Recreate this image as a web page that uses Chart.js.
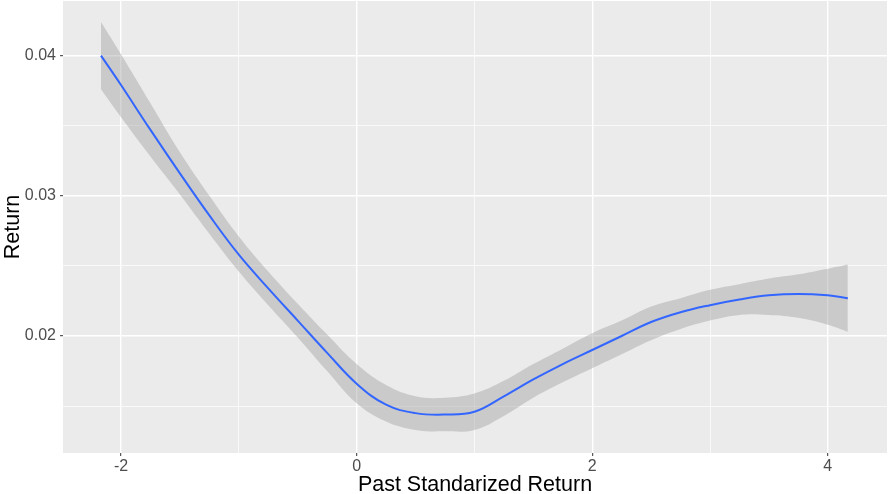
<!DOCTYPE html>
<html lang="en">
<head>
  <meta charset="UTF-8" />
  <title>Return vs Past Standarized Return</title>
  <script src="https://cdn.jsdelivr.net/npm/chart.js"></script>
  <style>
    html, body { margin: 0; padding: 0; background: #ffffff; }
    #wrap { width: 888px; height: 494px; }
  </style>
</head>
<body>
  <div id="wrap"><canvas id="smoothChart" width="888" height="494"></canvas></div>

  <script>
    // Smoothed fit
    const pastReturn = [-2.17, -2, -1.75, -1.5, -1.25, -1, -0.75, -0.5, -0.25, 0, 0.25, 0.5, 0.75, 1,
                        1.25, 1.5, 1.75, 2, 2.25, 2.5, 2.75, 3, 3.25, 3.5, 3.75, 4, 4.17];
    const fitReturn  = [0.0400, 0.0379, 0.0347, 0.0316, 0.0286, 0.0258, 0.0234, 0.0211, 0.0188, 0.0166,
                        0.0151, 0.0145, 0.0144, 0.0146, 0.0157, 0.0169, 0.0180, 0.0190, 0.0200, 0.0210,
                        0.0217, 0.0222, 0.0226, 0.0229, 0.0230, 0.0229, 0.0227];
    const upperBand  = [0.0424, 0.0401, 0.0366, 0.0331, 0.0300, 0.0271, 0.0246, 0.0223, 0.0201, 0.0180,
                        0.0165, 0.0157, 0.0156, 0.0159, 0.0168, 0.0180, 0.0191, 0.0202, 0.0211, 0.0221,
                        0.0227, 0.0233, 0.0237, 0.0241, 0.0244, 0.0248, 0.0251];
    const lowerBand  = [0.0376, 0.0356, 0.0328, 0.0301, 0.0273, 0.0246, 0.0222, 0.0199, 0.0175, 0.0152,
                        0.0139, 0.0133, 0.0132, 0.0133, 0.0143, 0.0156, 0.0167, 0.0177, 0.0187, 0.0197,
                        0.0205, 0.0211, 0.0215, 0.0215, 0.0213, 0.0208, 0.0203];

    // axis ticks (odd x / half y steps are minor grid lines only)
    const xTicks = [-2, -1, 0, 1, 2, 3, 4];
    const xLabels = ["-2", "", "0", "", "2", "", "4"];
    const yTicks = [0.015, 0.02, 0.025, 0.03, 0.035, 0.04];
    const yLabels = ["", "0.02", "", "0.03", "", "0.04"];

    const toPoints = (ys) => pastReturn.map((x, i) => ({ x: x, y: ys[i] }));

    // grey panel like ggplot
    const panelBg = {
      id: "panelBg",
      beforeDraw(chart) {
        const a = chart.chartArea;
        const ctx = chart.ctx;
        ctx.save();
        ctx.fillStyle = "#EBEBEB";
        ctx.fillRect(a.left, a.top, a.right - a.left, a.bottom - a.top);
        ctx.restore();
      }
    };

    const isMajor = (ctx, labels) => ctx.index !== undefined && labels[ctx.index] !== "";
    const sans = "'Liberation Sans', Arial, sans-serif";

    new Chart(document.getElementById("smoothChart"), {
      type: "line",
      data: {
        datasets: [
          {
            label: "fit",
            data: toPoints(fitReturn),
            borderColor: "#3366FF",
            borderWidth: 2,
            pointRadius: 0,
            fill: false,
            tension: 0.4
          },
          {
            label: "upper",
            data: toPoints(upperBand),
            borderColor: "rgba(0,0,0,0)",
            borderWidth: 0,
            pointRadius: 0,
            backgroundColor: "rgba(153,153,153,0.4)",
            fill: "+1",
            tension: 0.4
          },
          {
            label: "lower",
            data: toPoints(lowerBand),
            borderColor: "rgba(0,0,0,0)",
            borderWidth: 0,
            pointRadius: 0,
            fill: false,
            tension: 0.4
          }
        ]
      },
      options: {
        responsive: false,
        animation: false,
        layout: { padding: { top: 1, right: 1, left: 0, bottom: 0 } },
        plugins: {
          legend: { display: false },
          tooltip: { enabled: false }
        },
        scales: {
          x: {
            type: "linear",
            min: -2.4925,
            max: 4.5025,
            afterBuildTicks: (axis) => { axis.ticks = xTicks.map(v => ({ value: v })); },
            afterFit: (scale) => {
              scale.height = 41;
              scale.paddingLeft = 0;
              scale.paddingRight = 0;
            },
            border: { display: false },
            grid: {
              color: "#FFFFFF",
              lineWidth: (ctx) => isMajor(ctx, xLabels) ? 1.4 : 0.7,
              tickColor: (ctx) => isMajor(ctx, xLabels) ? "#333333" : "rgba(0,0,0,0)",
              tickLength: 3,
              tickWidth: 1
            },
            ticks: {
              autoSkip: false,
              maxRotation: 0,
              padding: 1,
              color: "#4D4D4D",
              font: { family: sans, size: 16 },
              callback: (v, i) => xLabels[i]
            },
            title: {
              display: true,
              text: "Past Standarized Return",
              color: "#000000",
              padding: { top: 0, bottom: 0 },
              font: { family: sans, size: 21.5, lineHeight: 0.8 }
            }
          },
          y: {
            type: "linear",
            min: 0.011655,
            max: 0.043896,
            afterBuildTicks: (axis) => { axis.ticks = yTicks.map(v => ({ value: v })); },
            afterFit: (scale) => {
              scale.width = 63;
              scale.paddingTop = 0;
              scale.paddingBottom = 0;
            },
            border: { display: false },
            grid: {
              color: "#FFFFFF",
              lineWidth: (ctx) => isMajor(ctx, yLabels) ? 1.4 : 0.7,
              tickColor: (ctx) => isMajor(ctx, yLabels) ? "#333333" : "rgba(0,0,0,0)",
              tickLength: 3,
              tickWidth: 1
            },
            ticks: {
              autoSkip: false,
              padding: 4,
              color: "#4D4D4D",
              font: { family: sans, size: 16 },
              callback: (v, i) => yLabels[i]
            },
            title: {
              display: true,
              text: "Return",
              color: "#000000",
              padding: { top: 0, bottom: 0 },
              font: { family: sans, size: 21.5 }
            }
          }
        }
      },
      plugins: [panelBg]
    });
  </script>
</body>
</html>
